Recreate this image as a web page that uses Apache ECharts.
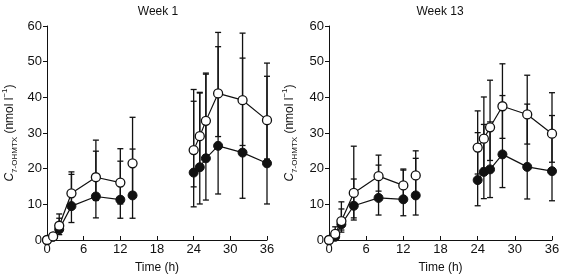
<!DOCTYPE html>
<html>
<head>
<meta charset="utf-8">
<script src="https://cdn.jsdelivr.net/npm/echarts@6/dist/echarts.min.js"></script>
<style>
  html, body { margin: 0; padding: 0; background: #fff; }
</style>
</head>
<body>
<div id="myChart" style="width: 561px; height: 277px;"></div>
<script>
// sampling times (h); the line is broken after 12 h and after 14 h
const times = [0, 1, 2, 4, 8, 12, 14, 24, 25, 26, 28, 32, 36]
const breakAfter = [12, 14]
const panelTitles = ['Week 1', 'Week 13']
const xTicks = [0, 6, 12, 18, 24, 30, 36]

// Week 1 : open circles and filled circles, with lower / upper error bar ends
const w1Open = [0, 1.0, 4.0, 13.1, 17.6, 16.1, 21.5, 25.2, 29.1, 33.4, 41.1, 39.2, 33.6]
const w1OpenLo = [0, 0.6, 2.2, 9.0, 11.1, 10.1, 13.4, 14.9, 20.5, 23.9, 29.0, 26.5, 22.7]
const w1OpenHi = [0, 1.5, 7.3, 19.1, 28.0, 25.6, 34.4, 42.2, 41.4, 46.8, 58.2, 58.0, 49.6]
const w1Filled = [0, 0.9, 3.0, 9.5, 12.2, 11.3, 12.5, 18.9, 20.4, 22.9, 26.4, 24.5, 21.5]
const w1FilledLo = [0, 0.5, 1.5, 4.9, 6.2, 6.1, 6.1, 9.3, 10.1, 11.2, 12.9, 11.7, 10.1]
const w1FilledHi = [0, 1.5, 6.1, 18.4, 24.9, 22.1, 25.5, 38.9, 41.2, 46.5, 54.2, 51.0, 45.9]

// Week 13
const w13Open = [0, 1.7, 5.3, 13.2, 17.9, 15.3, 18.1, 25.9, 28.4, 31.6, 37.5, 35.2, 29.8]
const w13OpenLo = [0, 0.8, 2.8, 6.2, 13.7, 11.8, 13.1, 18.5, 20.1, 22.3, 28.5, 26.9, 21.8]
const w13OpenHi = [0, 3.7, 10.7, 26.3, 23.8, 19.9, 25.0, 36.2, 40.1, 44.8, 49.4, 46.2, 41.3]
const w13Filled = [0, 0.9, 4.4, 9.6, 11.8, 11.4, 12.5, 16.8, 19.1, 19.8, 24.0, 20.5, 19.3]
const w13FilledLo = [0, 0.5, 2.2, 5.6, 7.0, 6.8, 7.0, 9.6, 11.6, 11.9, 14.7, 11.5, 11.0]
const w13FilledHi = [0, 1.5, 8.7, 17.1, 21.0, 19.6, 22.9, 30.1, 32.4, 33.1, 40.5, 38.1, 34.9]

const ink = '#111'
const font = 'Liberation Sans, Arial, sans-serif'

function lineData (vals) {
  let out = []
  times.forEach((t, i) => {
    out.push([t, vals[i]])
    if (breakAfter.indexOf(t) >= 0) out.push(['-', '-'])
  })
  return out
}

function barData (lo, hi) {
  return times.map((t, i) => [t, lo[i], hi[i]]).filter(d => d[2] > d[1])
}

function renderBar (params, api) {
  const x = api.value(0)
  const a = api.coord([x, api.value(1)])
  const b = api.coord([x, api.value(2)])
  const w = 3
  const st = { stroke: ink, lineWidth: 1.3 }
  return {
    type: 'group',
    children: [
      { type: 'line', shape: { x1: a[0], y1: a[1], x2: b[0], y2: b[1] }, style: st },
      { type: 'line', shape: { x1: a[0] - w, y1: a[1], x2: a[0] + w, y2: a[1] }, style: st },
      { type: 'line', shape: { x1: b[0] - w, y1: b[1], x2: b[0] + w, y2: b[1] }, style: st }
    ]
  }
}

const panels = [
  { open: w1Open, openLo: w1OpenLo, openHi: w1OpenHi, filled: w1Filled, filledLo: w1FilledLo, filledHi: w1FilledHi },
  { open: w13Open, openLo: w13OpenLo, openHi: w13OpenHi, filled: w13Filled, filledLo: w13FilledLo, filledHi: w13FilledHi }
]

let series = []
panels.forEach((p, k) => {
  series.push({ type: 'custom', xAxisIndex: k, yAxisIndex: k, z: 1, renderItem: renderBar, encode: { x: 0, y: [1, 2] }, data: barData(p.filledLo, p.filledHi), silent: true })
  series.push({ type: 'custom', xAxisIndex: k, yAxisIndex: k, z: 1, renderItem: renderBar, encode: { x: 0, y: [1, 2] }, data: barData(p.openLo, p.openHi), silent: true })
  series.push({
    type: 'line', xAxisIndex: k, yAxisIndex: k, z: 3,
    data: lineData(p.filled),
    symbol: 'circle', symbolSize: 9, showAllSymbol: true,
    lineStyle: { color: ink, width: 1.2 },
    itemStyle: { color: ink, borderColor: ink, borderWidth: 1 },
    animation: false
  })
  series.push({
    type: 'line', xAxisIndex: k, yAxisIndex: k, z: 4,
    data: lineData(p.open),
    symbol: 'circle', symbolSize: 9, showAllSymbol: true,
    lineStyle: { color: ink, width: 1.2 },
    itemStyle: { color: '#fff', borderColor: ink, borderWidth: 1.3 },
    animation: false
  })
})

const yName = '{i|C}{sub|7-OHMTX}{n| (nmol l}{sup|−1}{n|)}'
const yRich = {
  i: { fontSize: 12, fontStyle: 'italic', fontFamily: font, color: ink, lineHeight: 18 },
  sub: { fontSize: 8, fontFamily: font, color: ink, verticalAlign: 'bottom', lineHeight: 12 },
  n: { fontSize: 12, fontFamily: font, color: ink, lineHeight: 18 },
  sup: { fontSize: 8, fontFamily: font, color: ink, verticalAlign: 'top', lineHeight: 10 }
}

function xAxis (k) {
  return {
    type: 'value', gridIndex: k, min: 0, max: 36, interval: 6,
    name: 'Time (h)', nameLocation: 'middle', nameGap: 22,
    nameTextStyle: { fontSize: 12, fontFamily: font, color: ink },
    axisLine: { lineStyle: { color: ink, width: 1 } },
    axisTick: { inside: true, length: 4, lineStyle: { color: ink } },
    axisLabel: { fontSize: 13, fontFamily: font, color: ink, margin: 3, customValues: xTicks },
    splitLine: { show: false }
  }
}

function yAxis (k) {
  return {
    type: 'value', gridIndex: k, min: 0, max: 60, interval: 10,
    name: yName, nameLocation: 'middle', nameGap: k === 0 ? 37 : 39,
    nameTextStyle: { rich: yRich, align: 'center', verticalAlign: 'middle' },
    axisLine: { show: true, lineStyle: { color: ink, width: 1 } },
    axisTick: { show: true, length: 4, lineStyle: { color: ink } },
    axisLabel: { fontSize: 13, fontFamily: font, color: ink, margin: 5 },
    splitLine: { show: false }
  }
}

const option = {
  animation: false,
  title: [
    { text: panelTitles[0], left: 153, top: 1, textAlign: 'center', textStyle: { fontSize: 12, fontWeight: 'normal', fontFamily: font, color: ink } },
    { text: panelTitles[1], left: 435, top: 1, textAlign: 'center', textStyle: { fontSize: 12, fontWeight: 'normal', fontFamily: font, color: ink } }
  ],
  grid: [
    { left: 47, top: 26, width: 220, height: 214, outerBoundsMode: 'none', containLabel: false },
    { left: 329, top: 26, width: 223, height: 214, outerBoundsMode: 'none', containLabel: false }
  ],
  xAxis: [xAxis(0), xAxis(1)],
  yAxis: [yAxis(0), yAxis(1)],
  series: series
}

let myChart = echarts.init(document.getElementById('myChart'))
myChart.setOption(option)
</script>
</body>
</html>
